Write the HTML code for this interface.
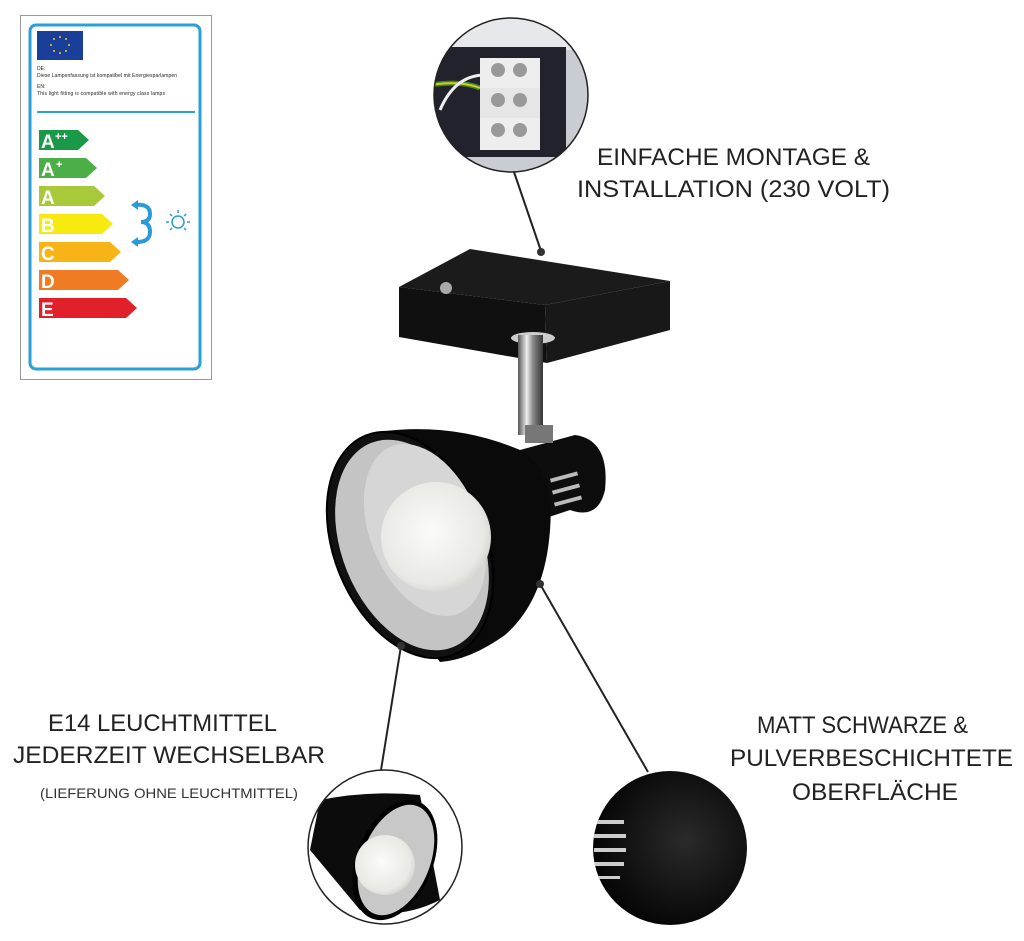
<!DOCTYPE html>
<html><head><meta charset="utf-8"><style>
html,body{margin:0;padding:0;background:#fff;}
svg{display:block;}
text{font-family:"Liberation Sans",sans-serif;fill:#222;}
</style></head><body>
<svg width="1024" height="941" viewBox="0 0 1024 941" xmlns="http://www.w3.org/2000/svg">
<defs>
<radialGradient id="bulb" cx="0.45" cy="0.45" r="0.6"><stop offset="0" stop-color="#fbfbf8"/><stop offset="0.8" stop-color="#e8e8e4"/><stop offset="1" stop-color="#cfcfcc"/></radialGradient>
<linearGradient id="chrome" x1="0" x2="1"><stop offset="0" stop-color="#555"/><stop offset="0.35" stop-color="#eee"/><stop offset="0.6" stop-color="#888"/><stop offset="1" stop-color="#333"/></linearGradient>
<radialGradient id="rc" cx="0.6" cy="0.45" r="0.6"><stop offset="0" stop-color="#2a2a2a"/><stop offset="1" stop-color="#050505"/></radialGradient>
<clipPath id="c1"><circle cx="511" cy="95" r="77"/></clipPath>
<clipPath id="c2"><circle cx="385" cy="847" r="77"/></clipPath>
<clipPath id="c3"><circle cx="670" cy="848" r="77"/></clipPath>
</defs>

<!-- energy label -->
<rect x="20.5" y="15.5" width="191" height="364" fill="#fff" stroke="#999" stroke-width="1"/>
<rect x="30" y="25" width="170" height="344" rx="6" fill="#fff" stroke="#2aa0d8" stroke-width="3"/>
<rect x="37" y="31" width="46" height="29" fill="#1a3f9a"/>
<g fill="#f5d000"><circle cx="60" cy="37" r="1"/><circle cx="66" cy="39" r="1"/><circle cx="69" cy="45" r="1"/><circle cx="66" cy="51" r="1"/><circle cx="60" cy="53" r="1"/><circle cx="54" cy="51" r="1"/><circle cx="51" cy="45" r="1"/><circle cx="54" cy="39" r="1"/></g>
<text x="37" y="70" font-size="5">DE:</text>
<text x="37" y="77" font-size="5" textLength="140">Diese Lampenfassung ist kompatibel mit Energiesparlampen</text>
<text x="37" y="88" font-size="5">EN:</text>
<text x="37" y="95" font-size="5" textLength="128">This light fitting is compatible with energy class lamps</text>
<rect x="37" y="111" width="158" height="2" fill="#2aa0d8"/>
<g font-weight="bold" font-size="19">
<polygon points="39,130 78,130 89,140 78,150 39,150" fill="#1a9a48"/><text x="41" y="148" style="fill:#fff">A</text><text x="55" y="140" font-size="11" style="fill:#fff">++</text>
<polygon points="39,158 86,158 97,168 86,178 39,178" fill="#4cae47"/><text x="41" y="176" style="fill:#fff">A</text><text x="56" y="168" font-size="11" style="fill:#fff">+</text>
<polygon points="39,186 94,186 105,196 94,206 39,206" fill="#a7c93a"/><text x="41" y="204" style="fill:#fff">A</text>
<polygon points="39,214 102,214 113,224 102,234 39,234" fill="#f7ea10"/><text x="41" y="232" style="fill:#fff">B</text>
<polygon points="39,242 110,242 121,252 110,262 39,262" fill="#f7b417"/><text x="41" y="260" style="fill:#fff">C</text>
<polygon points="39,270 118,270 129,280 118,290 39,290" fill="#ef7c22"/><text x="41" y="288" style="fill:#fff">D</text>
<polygon points="39,298 126,298 137,308 126,318 39,318" fill="#e2202a"/><text x="41" y="316" style="fill:#fff">E</text>
</g>
<path d="M134,205 Q150,203 150,214 Q150,222 141,222 Q150,222 150,232 Q150,243 134,242" fill="none" stroke="#2a9ad8" stroke-width="4"/>
<polygon points="131,205 138,200 138,210" fill="#2a9ad8"/><polygon points="131,242 138,237 138,247" fill="#2a9ad8"/>
<circle cx="178" cy="222" r="6" fill="none" stroke="#2a9ad8" stroke-width="1.5"/>
<g stroke="#2a9ad8" stroke-width="1.5"><line x1="178" y1="210" x2="178" y2="213"/><line x1="166" y1="222" x2="169" y2="222"/><line x1="187" y1="222" x2="190" y2="222"/><line x1="170" y1="214" x2="172" y2="216"/><line x1="186" y1="214" x2="184" y2="216"/><line x1="170" y1="230" x2="172" y2="228"/><line x1="186" y1="230" x2="184" y2="228"/></g>

<!-- top circle -->
<g clip-path="url(#c1)">
<rect x="430" y="15" width="165" height="165" fill="#c9ccd2"/>
<rect x="430" y="15" width="165" height="35" fill="#e6e8ec"/>
<rect x="433" y="47" width="133" height="110" fill="#22222c"/>
<path d="M430,85 Q460,80 480,88" stroke="#3a8a2a" stroke-width="5" fill="none"/>
<path d="M430,85 Q460,80 480,88" stroke="#d8c820" stroke-width="2" fill="none"/>
<path d="M440,110 Q455,75 485,75" stroke="#eee" stroke-width="3" fill="none"/>
<rect x="480" y="58" width="60" height="30" fill="#eee"/><rect x="480" y="88" width="60" height="30" fill="#e6e6e6"/><rect x="480" y="118" width="60" height="32" fill="#eee"/>
<g fill="#999"><circle cx="498" cy="70" r="7"/><circle cx="520" cy="70" r="7"/><circle cx="498" cy="100" r="7"/><circle cx="520" cy="100" r="7"/><circle cx="498" cy="130" r="7"/><circle cx="520" cy="130" r="7"/></g>
</g>
<circle cx="511" cy="95" r="77" fill="none" stroke="#222" stroke-width="1.5"/>

<!-- connector lines -->
<g stroke="#222" stroke-width="2" fill="none">
<line x1="514" y1="172" x2="541" y2="251"/>
<line x1="401" y1="646" x2="381" y2="770"/>
<line x1="540" y1="584" x2="648" y2="772"/>
</g>

<!-- mount box -->
<polygon points="399,287 470,249 670,281 545,305" fill="#1b1b1b"/>
<polygon points="399,287 545,305 547,363 399,337" fill="#101010"/>
<polygon points="545,305 670,281 670,330 547,363" fill="#181818"/>
<circle cx="446" cy="288" r="6" fill="#aaa"/>
<ellipse cx="533" cy="338" rx="22" ry="6" fill="#ccc"/>
<rect x="518" y="335" width="25" height="100" fill="url(#chrome)"/>
<circle cx="541" cy="252" r="4" fill="#333"/>

<!-- socket cylinder -->
<path d="M520,450 L575,435 Q610,440 605,490 Q598,520 570,510 L540,520 Z" fill="#0d0d0d"/>
<g fill="#bbb"><rect x="550" y="475" width="28" height="4" transform="rotate(-15 564 477)"/><rect x="552" y="487" width="28" height="4" transform="rotate(-15 566 489)"/><rect x="554" y="499" width="28" height="4" transform="rotate(-15 568 501)"/></g>
<rect x="525" y="425" width="28" height="18" fill="#777"/>

<!-- shade -->
<path d="M370,433 Q450,420 520,450 Q555,470 550,530 Q545,600 505,635 Q470,660 440,662 L360,560 Z" fill="#0a0a0a"/>
<ellipse cx="410" cy="545" rx="76" ry="118" transform="rotate(-22 410 545)" fill="#111" stroke="#000" stroke-width="2"/>
<ellipse cx="412" cy="545" rx="70" ry="110" transform="rotate(-22 412 545)" fill="#c4c4c4"/>
<ellipse cx="425" cy="530" rx="55" ry="90" transform="rotate(-22 425 530)" fill="#d6d6d6"/>
<circle cx="436" cy="537" r="55" fill="url(#bulb)"/>
<circle cx="401" cy="646" r="4" fill="#333"/>
<circle cx="540" cy="584" r="4" fill="#333"/>

<!-- bottom left circle -->
<g clip-path="url(#c2)">
<rect x="305" y="768" width="160" height="160" fill="#fff"/>
<path d="M320,800 Q370,790 420,795 L440,900 Q400,920 360,910 L310,850 Z" fill="#0c0c0c"/>
<ellipse cx="395" cy="860" rx="38" ry="63" transform="rotate(22 395 860)" fill="#000"/>
<ellipse cx="396" cy="860" rx="34" ry="58" transform="rotate(22 396 860)" fill="#c8c8c8"/>
<circle cx="385" cy="865" r="30" fill="url(#bulb)"/>
</g>
<circle cx="385" cy="847" r="77" fill="none" stroke="#222" stroke-width="1.5"/>

<!-- bottom right circle -->
<circle cx="670" cy="848" r="77" fill="url(#rc)"/>
<g clip-path="url(#c3)" fill="#ccc">
<rect x="594" y="820" width="30" height="4"/><rect x="594" y="834" width="32" height="4"/><rect x="594" y="848" width="32" height="4"/><rect x="594" y="862" width="30" height="4"/><rect x="594" y="876" width="26" height="3"/>
</g>

<!-- texts -->
<g font-size="24" font-stretch="condensed">
<text x="597" y="165" textLength="273" lengthAdjust="spacingAndGlyphs">EINFACHE MONTAGE &amp;</text>
<text x="577" y="197" textLength="313" lengthAdjust="spacingAndGlyphs">INSTALLATION (230 VOLT)</text>
<text x="48" y="731" textLength="229" lengthAdjust="spacingAndGlyphs">E14 LEUCHTMITTEL</text>
<text x="13" y="763" textLength="312" lengthAdjust="spacingAndGlyphs">JEDERZEIT WECHSELBAR</text>
<text x="757" y="733" textLength="211" lengthAdjust="spacingAndGlyphs">MATT SCHWARZE &amp;</text>
<text x="730" y="766" textLength="283" lengthAdjust="spacingAndGlyphs">PULVERBESCHICHTETE</text>
<text x="792" y="800" textLength="166" lengthAdjust="spacingAndGlyphs">OBERFLÄCHE</text>
</g>
<text x="40" y="798" font-size="14" textLength="258" lengthAdjust="spacingAndGlyphs" style="fill:#333">(LIEFERUNG OHNE LEUCHTMITTEL)</text>
</svg>
</body></html>
